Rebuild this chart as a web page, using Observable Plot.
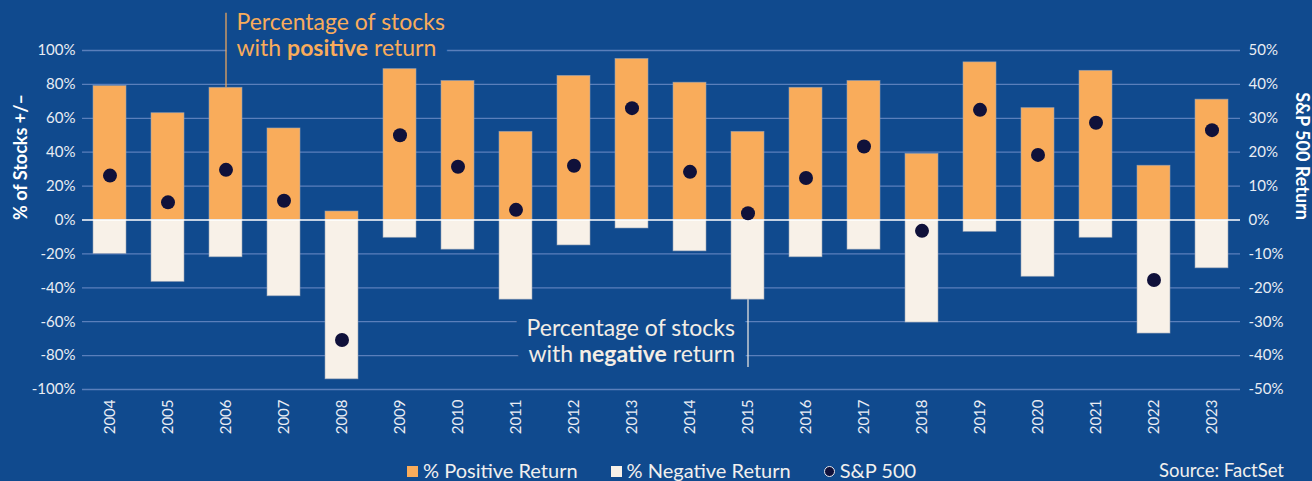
<!DOCTYPE html>
<html>
<head>
<meta charset="utf-8">
<script src="https://cdn.jsdelivr.net/npm/d3@7"></script>
<script src="https://cdn.jsdelivr.net/npm/@observablehq/plot@0.6"></script>
<style>
  html, body { margin: 0; padding: 0; background: #104a8e; }
  body { width: 1312px; height: 481px; overflow: hidden; font-family: Lato, sans-serif; }
  #chart svg { display: block; }
  #legend { position: relative; height: 29px; color: #f1f0ee; font-size: 20px; line-height: 22px; }
  #legend .items { position: absolute; left: 407px; top: 7px; display: flex; align-items: center; gap: 33px; }
  #legend .item { display: flex; align-items: center; gap: 5px; white-space: nowrap; }
  #legend .sw { width: 11px; height: 11px; display: inline-block; margin-top: 3px; }
  #legend .dot { width: 11px; height: 11px; border-radius: 50%; display: inline-block; border: 1px solid #e8e8ee; box-sizing: border-box; margin-top: 3px; }
  #legend .source { position: absolute; right: 28px; top: 7px; white-space: nowrap; font-size: 18.5px; }
</style>
</head>
<body>
<div id="chart"></div>
<div id="legend"></div>
<script>
// ---- data ----
const years = ["2004","2005","2006","2007","2008","2009","2010","2011","2012","2013",
               "2014","2015","2016","2017","2018","2019","2020","2021","2022","2023"];
const positiveShare = [79, 63, 78, 54, 5, 89, 82, 52, 85, 95, 81, 52, 78, 82, 39, 93, 66, 88, 32, 71];
const negativeShare = [-20, -36.5, -22, -45, -94, -10.5, -17.5, -47, -15, -5, -18.5, -47, -22, -17.5, -60.5, -7, -33.5, -10.5, -67, -28.5];
const sp500Return = [13.1, 5.2, 14.8, 5.7, -35.4, 25.0, 15.7, 3.0, 16.0, 33.0, 14.2, 2.0, 12.4, 21.7, -3.2, 32.5, 19.2, 28.7, -17.7, 26.5];
const leftTicks = [-100, -80, -60, -40, -20, 0, 20, 40, 60, 80, 100];
const rightTicks = [-50, -40, -30, -20, -10, 0, 10, 20, 30, 40, 50];
const leftTitle = "% of Stocks +/–";
const rightTitle = "S&P 500 Return";
const annPositive = {year: "2006", y: 97, top: 122, lines: ["Percentage of stocks", "with ", "positive", " return"]};
const annNegative = {year: "2015", y: -83.5, end: -87, lines: ["Percentage of stocks", "with ", "negative", " return"]};
const legendItems = [
  {label: "% Positive Return", kind: "sq", color: "#f9ac5b"},
  {label: "% Negative Return", kind: "sq", color: "#f8f1e8"},
  {label: "S&P 500", kind: "dot", color: "#10113a"}
];
const sourceText = "Source: FactSet";

// ---- colours ----
const BG = "#104a8e", ORANGE = "#f9ac5b", CREAM = "#f8f1e8", ANN_CREAM = "#f3ede5", NAVY = "#10113a", GRID = "#5a7fbb", INK = "#e9edf4";

const data = years.map((year, i) => ({year, pos: positiveShare[i], neg: negativeShare[i], sp: sp500Return[i]}));
const ratio = 100 / 50; // right axis 50% == left axis 100%

function annText(ann, opts, cls, halo) {
  return Plot.text([ann], {
    x: "year", y: "y",
    text: d => d.lines[0] + "\n" + d.lines.slice(1).join(""),
    lineAnchor: "bottom", fontSize: 23, lineHeight: 1.13,
    className: cls,
    ...(halo ? {fill: BG, stroke: BG, strokeWidth: 24, strokeLinejoin: "round"} : {}),
    ...opts
  });
}

const posOpts = {textAnchor: "start", dx: 10.5};
const negOpts = {textAnchor: "end", dx: -13};

const plot = Plot.plot({
  width: 1312,
  height: 452,
  marginTop: 50,
  marginBottom: 63,
  marginLeft: 82,
  marginRight: 72,
  style: {background: "transparent", color: INK, fontFamily: "Lato, sans-serif", fontSize: "15px", overflow: "visible"},
  x: {type: "band", domain: years, paddingInner: 0.43, paddingOuter: 0.19},
  y: {domain: [-100, 100]},
  marks: [
    Plot.ruleY(leftTicks.filter(d => d !== 0), {stroke: GRID, strokeWidth: 1.3}),
    // halos behind annotation text (interrupt the gridlines)
    annText(annPositive, posOpts, "ann-pos-halo", true),
    annText(annNegative, negOpts, "ann-neg-halo", true),
    annText(annPositive, {...posOpts, fill: ORANGE}, "ann-pos", false),
    annText(annNegative, {...negOpts, fill: ANN_CREAM}, "ann-neg", false),
    Plot.barY(data, {x: "year", y: "pos", fill: ORANGE, stroke: "#9aa5b8", strokeWidth: 0.8, strokeOpacity: 0.7}),
    Plot.barY(data, {x: "year", y: "neg", fill: CREAM, stroke: "#9aa5b8", strokeWidth: 0.8, strokeOpacity: 0.7}),
    Plot.ruleY([0], {stroke: "#ffffff", strokeWidth: 1.5}),
    Plot.ruleX([annPositive], {x: "year", y1: d => data.find(e => e.year === d.year).pos, y2: "top", stroke: ORANGE, strokeWidth: 1.2}),
    Plot.ruleX([annNegative], {x: "year", y1: d => data.find(e => e.year === d.year).neg, y2: "end", stroke: ANN_CREAM, strokeWidth: 1.2}),
    Plot.axisY({anchor: "left", ticks: leftTicks, tickSize: 0, tickPadding: 7, tickFormat: d => d + "%", label: null, fontSize: 15}),
    Plot.axisY({anchor: "right", ticks: rightTicks.map(d => d * ratio), tickSize: 0, tickPadding: 8,
      tickFormat: d => (d / ratio) + "%", label: null, fontSize: 15, textAnchor: "start"}),
    Plot.axisX({anchor: "bottom", tickRotate: -90, tickSize: 0, tickPadding: 10, label: null, fontSize: 15}),
    Plot.text([leftTitle], {frameAnchor: "left", text: d => d, rotate: -90, dx: -61, fontWeight: "bold", fontSize: 18, fill: "#ffffff"}),
    Plot.text([rightTitle], {frameAnchor: "right", text: d => d, rotate: 90, dx: 61, fontWeight: "bold", fontSize: 18, fill: "#ffffff"}),
    Plot.dot(data, {x: "year", y: d => d.sp * ratio, r: 7, fill: NAVY})
  ]
});

// mixed bold within the annotation second line
function boldify(cls, ann) {
  const t = plot.querySelector("g." + cls + " text");
  if (!t) return;
  const spans = t.querySelectorAll("tspan");
  const second = spans[spans.length - 1];
  second.textContent = "";
  const ns = "http://www.w3.org/2000/svg";
  ann.lines.slice(1).forEach((s, i) => {
    const ts = document.createElementNS(ns, "tspan");
    ts.textContent = s;
    if (i === 1) ts.setAttribute("font-weight", "bold");
    second.appendChild(ts);
  });
}
boldify("ann-pos-halo", annPositive);
boldify("ann-neg-halo", annNegative);
boldify("ann-pos", annPositive);
boldify("ann-neg", annNegative);

document.getElementById("chart").appendChild(plot);

// legend
const legend = document.getElementById("legend");
const items = document.createElement("div");
items.className = "items";
legendItems.forEach(it => {
  const el = document.createElement("div");
  el.className = "item";
  const sw = document.createElement("span");
  sw.className = it.kind === "dot" ? "dot" : "sw";
  sw.style.background = it.color;
  el.appendChild(sw);
  const lab = document.createElement("span");
  lab.textContent = it.label;
  el.appendChild(lab);
  items.appendChild(el);
});
legend.appendChild(items);
const src = document.createElement("div");
src.className = "source";
src.textContent = sourceText;
legend.appendChild(src);
</script>
</body>
</html>
